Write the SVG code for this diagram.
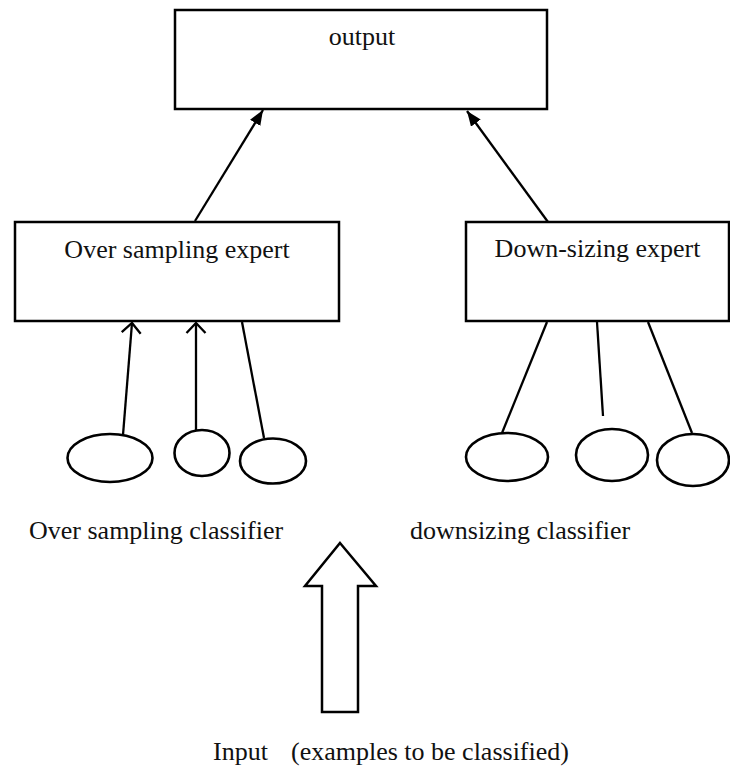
<svg xmlns="http://www.w3.org/2000/svg" width="730" height="767" viewBox="0 0 730 767">
<style>
.box{fill:#fff;stroke:#000;stroke-width:2.5}
.ell{fill:#fff;stroke:#000;stroke-width:2.6}
.ln{fill:none;stroke:#000;stroke-width:2.3}
text{font-family:"Liberation Serif","Times New Roman",serif;font-size:26px;fill:#111}
</style>
<defs>
<marker id="fill" viewBox="0 0 15 12" refX="15" refY="6" markerWidth="15" markerHeight="12" markerUnits="userSpaceOnUse" orient="auto">
<path d="M0,0 L15,6 L0,12 z" fill="#000"/>
</marker>
<marker id="open" viewBox="-1 -1 12 22" refX="10" refY="10" markerWidth="12" markerHeight="22" markerUnits="userSpaceOnUse" orient="auto">
<path d="M0,0.5 L10,10 L0,19.5" fill="none" stroke="#000" stroke-width="2.3"/>
</marker>
</defs>
<g id="output">
<rect class="box" x="175" y="10" width="372" height="99"/>
<text x="362" y="45" text-anchor="middle">output</text>
</g>
<g id="over-expert">
<rect class="box" x="15" y="222" width="324" height="99"/>
<text x="177" y="258" text-anchor="middle">Over sampling expert</text>
</g>
<g id="down-expert">
<rect class="box" x="466" y="222" width="263" height="99"/>
<text x="597.5" y="257" text-anchor="middle">Down-sizing expert</text>
</g>
<g id="over-c1"><ellipse class="ell" cx="110" cy="458" rx="42.5" ry="24"/></g>
<g id="over-c2"><ellipse class="ell" cx="202" cy="453" rx="27.5" ry="23"/></g>
<g id="over-c3"><ellipse class="ell" cx="273" cy="461" rx="33" ry="22.5"/></g>
<g id="down-c1"><ellipse class="ell" cx="507" cy="457" rx="41" ry="24"/></g>
<g id="down-c2"><ellipse class="ell" cx="612" cy="455" rx="36" ry="26"/></g>
<g id="down-c3"><ellipse class="ell" cx="693" cy="460" rx="36" ry="26"/></g>
<g id="input-arrow">
<path class="box" d="M340,543 L376,586 L358,586 L358,712 L322,712 L322,586 L305,586 Z"/>
</g>
<g id="labels">
<text x="29" y="539">Over sampling classifier</text>
<text x="410" y="539">downsizing classifier</text>
<text x="213" y="760">Input</text>
<text x="291" y="760">(examples to be classified)</text>
</g>
<g id="connectors">
<line class="ln" x1="195" y1="221" x2="263" y2="110" marker-end="url(#fill)"/>
<line class="ln" x1="548" y1="222" x2="467" y2="111" marker-end="url(#fill)"/>
<line class="ln" x1="123" y1="435" x2="132" y2="323" marker-end="url(#open)"/>
<line class="ln" x1="196" y1="430" x2="196" y2="323" marker-end="url(#open)"/>
<line class="ln" x1="242" y1="322" x2="264" y2="438"/>
<line class="ln" x1="547" y1="322" x2="502" y2="433"/>
<line class="ln" x1="597" y1="322" x2="603" y2="416"/>
<line class="ln" x1="648" y1="322" x2="692" y2="433"/>
</g>
</svg>
